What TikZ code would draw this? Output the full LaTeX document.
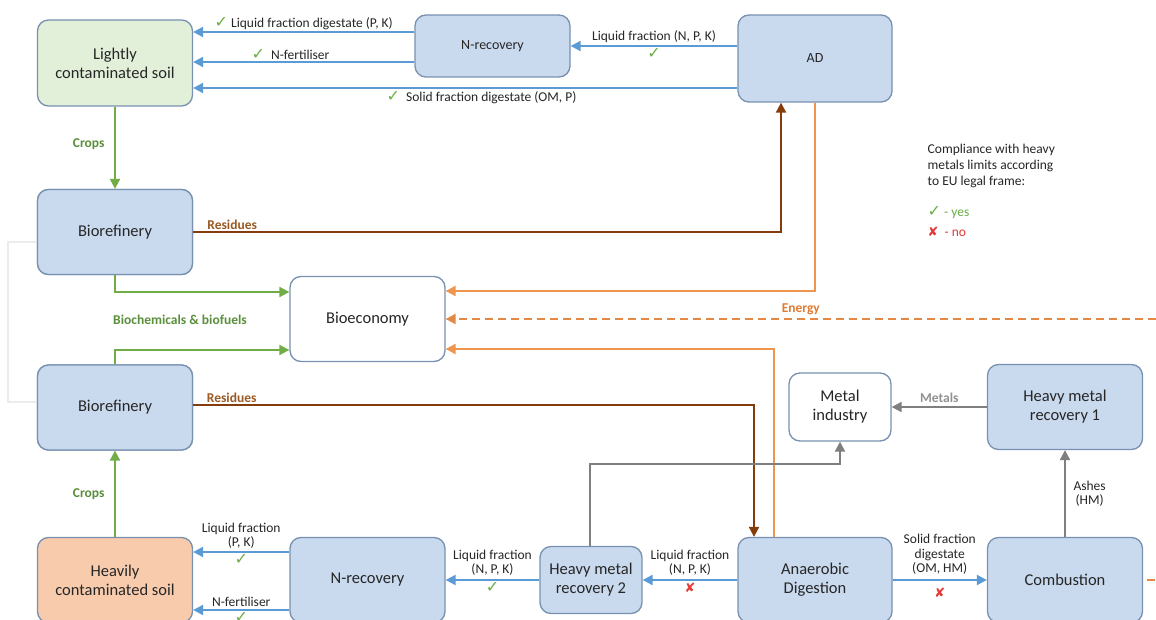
\documentclass[tikz,border=0pt]{standalone}
\usepackage{fontspec}
\setmainfont{Carlito}
\newfontfamily\symfont{DejaVu Sans}
\definecolor{boxfill}{HTML}{C9D9EE}
\definecolor{boxline}{HTML}{7891B0}
\definecolor{soilgreen}{HTML}{E2F0D9}
\definecolor{soilorange}{HTML}{F8CBAD}
\definecolor{ink}{HTML}{262626}
\definecolor{flowblue}{HTML}{5B9BD5}
\definecolor{cropgreen}{HTML}{70AD47}
\definecolor{labgreen}{HTML}{5A8F3C}
\definecolor{residue}{HTML}{843C0C}
\definecolor{labbrown}{HTML}{9A5A22}
\definecolor{energy}{HTML}{EE9550}
\definecolor{labenergy}{HTML}{E07B30}
\definecolor{metalgray}{HTML}{7F7F7F}
\definecolor{okgreen}{HTML}{6AAF47}
\definecolor{nored}{HTML}{E53935}
\usetikzlibrary{arrows.meta, positioning, calc}
\newcommand{\chk}{{\symfont\fontsize{16}{14}\selectfont\color{okgreen}✓}}
\newcommand{\crs}{{\symfont\fontsize{13}{14}\selectfont\color{nored}✘}}
\tikzset{
  box/.style={draw=boxline, fill=boxfill, rounded corners=11pt, align=center, text=ink,
              line width=1.3pt, font=\fontsize{16.5}{19}\selectfont, inner sep=2pt},
  smallbox/.style={box, font=\fontsize{14}{16}\selectfont},
  tip/.style={-{Triangle[length=10pt,width=10pt]}},
  bflow/.style={tip, line width=2pt, color=flowblue},
  gflow/.style={tip, line width=2pt, color=cropgreen},
  rflow/.style={tip, line width=2pt, color=residue},
  oflow/.style={tip, line width=2pt, color=energy},
  hflow/.style={tip, line width=2pt, color=metalgray},
  lbl/.style={font=\fontsize{13.5}{14.5}\selectfont, text=ink, align=center, inner sep=1.5pt},
  glbl/.style={lbl, font=\fontsize{13.5}{15}\selectfont\bfseries, text=labgreen},
  rlbl/.style={lbl, font=\fontsize{13.5}{15}\selectfont\bfseries, text=labbrown},
  elbl/.style={lbl, font=\fontsize{13.5}{15}\selectfont\bfseries, text=labenergy},
  mlbl/.style={lbl, font=\fontsize{13.5}{15}\selectfont\bfseries, text=metalgray!85},
}

\begin{document}
\begin{tikzpicture}[x=1pt,y=-1pt]
\fill[white] (0,0) rectangle (1156,620);
\useasboundingbox (0,0) rectangle (1156,620);

\node[box, minimum width=155pt, minimum height=85pt] (brefA) at (115,232) {Biorefinery};
\node[box, minimum width=155pt, minimum height=85pt] (brefB) at (115,407.5) {Biorefinery};
\draw[gray!15, line width=2.5pt] ([yshift=-10pt]brefA.west) -- ++(-29,0) |- ([yshift=5.5pt]brefB.west);
\node[box, minimum width=155pt, minimum height=85pt] (brefA) at (115,232) {Biorefinery};
\node[box, minimum width=155pt, minimum height=85pt] (brefB) at (115,407.5) {Biorefinery};

\node[box, fill=soilgreen, minimum width=155pt, minimum height=86pt] (lsoil) at (115,63) {Lightly\\contaminated soil};
\node[smallbox, minimum width=155pt, minimum height=62pt] (nrecA) at (492.5,46) {N-recovery};
\node[smallbox, minimum width=154pt, minimum height=87pt] (ad) at (815,58.5) {AD};
\node[box, fill=white, minimum width=155pt, minimum height=85pt] (bioec) at (367.5,319) {Bioeconomy};
\node[box, fill=white, minimum width=102pt, minimum height=68pt] (metal) at (840,407) {Metal\\industry};
\node[box, minimum width=155pt, minimum height=85pt] (hmrA) at (1065,407) {Heavy metal\\recovery 1};
\node[box, fill=soilorange, minimum width=155pt, minimum height=85pt] (hsoil) at (115,580) {Heavily\\contaminated soil};
\node[box, minimum width=155pt, minimum height=85pt] (nrecB) at (367.5,580) {N-recovery};
\node[box, minimum width=102pt, minimum height=67pt] (hmrB) at (591,580) {Heavy metal\\recovery 2};
\node[box, minimum width=154pt, minimum height=85pt] (adB) at (815,580) {Anaerobic\\Digestion};
\node[box, minimum width=155pt, minimum height=85pt] (comb) at (1065,580) {Combustion};

\draw[bflow] ([yshift=14pt]nrecA.west) coordinate (p1) -- (p1 -| lsoil.east)
  node[lbl, above, midway] {\chk\ Liquid fraction digestate (P, K)};
\draw[bflow] ([yshift=-16pt]nrecA.west) coordinate (p2) -- (p2 -| lsoil.east)
  node[lbl, above, pos=0.56] {\chk\ \ N-fertiliser};
\draw[bflow] ([yshift=-29.5pt]ad.west) coordinate (p3) -- (p3 -| lsoil.east)
  node[lbl, below=1pt, pos=0.47] {\chk\ \ Solid fraction digestate (OM, P)};
\draw[bflow] (ad.west |- nrecA.east) -- (nrecA.east)
  node[lbl, above=1pt, midway] {Liquid fraction (N, P, K)}
  node[lbl, below=0pt, midway] {\chk};

\draw[gflow] (lsoil) -- (brefA) node[glbl, left=8pt, pos=0.45] {Crops};
\draw[rflow] (brefA.east) -| ([xshift=-34pt]ad.south) node[rlbl, above right, pos=0.01] {Residues};
\draw[gflow] (brefA.south) |- ([yshift=27pt]bioec.west);
\draw[gflow] (brefB.north) |- ([yshift=-31pt]bioec.west);
\node[glbl] (biochem) at (180,320) {Biochemicals \& biofuels};

\draw[oflow] (ad.south) |- ([yshift=28pt]bioec.east);
\coordinate (eright) at (1156,319);
\draw[oflow, color=labenergy!90, dash pattern=on 8pt off 5pt] (eright) -- (bioec.east) node[elbl, above=2pt, pos=0.5] {Energy};
\draw[oflow] ([xshift=-41pt]adB.north) |- ([yshift=-30pt]bioec.east);
\draw[rflow] ([yshift=2.5pt]brefB.east) -| ([xshift=-61pt]adB.north) node[rlbl, above right, pos=0.01] {Residues};

\draw[hflow] (hmrA) -- (metal) node[mlbl, above=2pt, midway] {Metals};
\draw[hflow] ([xshift=-1pt]hmrB.north) |- ([yshift=-22pt]metal.south) -- (metal.south);
\draw[hflow] (comb) -- (hmrA) node[lbl, right=6pt, midway] {Ashes\\(HM)};

\draw[bflow] (adB) -- (comb)
  node[lbl, above=3pt, midway] {Solid fraction\\digestate\\(OM, HM)}
  node[lbl, below=5pt, midway] {\crs};
\draw[bflow] (adB) -- (hmrB)
  node[lbl, above=2pt, midway] {Liquid fraction\\(N, P, K)}
  node[lbl, below=0pt, midway] {\crs};
\draw[bflow] (hmrB) -- (nrecB)
  node[lbl, above=2pt, midway] {Liquid fraction\\(N, P, K)}
  node[lbl, below=0pt, midway] {\chk};
\draw[bflow] ([yshift=28pt]nrecB.west) coordinate (p4) -- (p4 -| hsoil.east)
  node[lbl, above=1pt, midway] {Liquid fraction\\(P, K)}
  node[lbl, below=0pt, midway] {\chk};
\draw[bflow] ([yshift=-30pt]nrecB.west) coordinate (p5) -- (p5 -| hsoil.east)
  node[lbl, above=1pt, midway] {N-fertiliser}
  node[lbl, below=0pt, midway] {\chk};
\draw[gflow] (hsoil) -- (brefB) node[glbl, left=8pt, midway] {Crops};

\coordinate (cright) at (1156,580);
\draw[labenergy!90, line width=2pt, dash pattern=on 8pt off 5pt, dash phase=-4pt] (comb.east) -- (cright);

\node[lbl, align=left, anchor=north west, font=\fontsize{13.5}{16}\selectfont] (legend) at (926,142) {Compliance with heavy\\metals limits according\\to EU legal frame:};
\node[lbl, anchor=west] (legyes) at (926,213) {\chk\ {\color{okgreen}- yes}};
\node[lbl, anchor=west] (legno) at (926,232) {\crs\ \ {\color{nored}- no}};
\end{tikzpicture}
\end{document}
